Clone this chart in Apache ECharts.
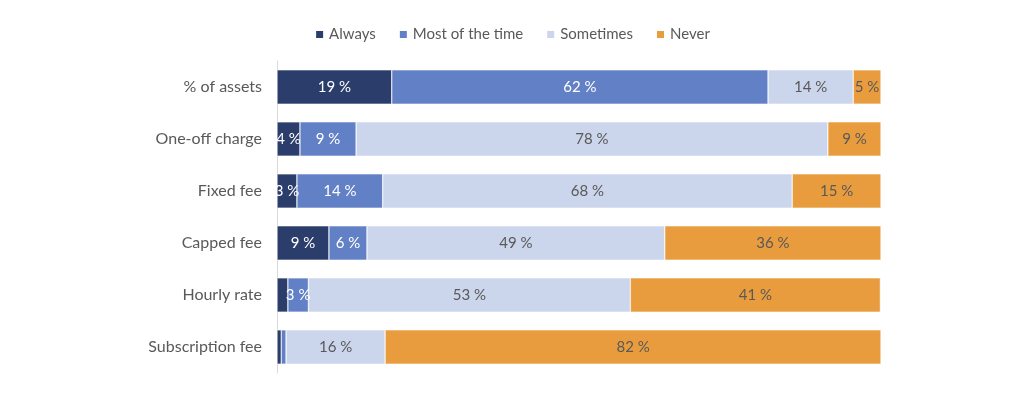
<!DOCTYPE html>
<html>
<head>
<meta charset="utf-8">
<script src="https://cdn.jsdelivr.net/npm/echarts@6/dist/echarts.min.js"></script>
<style>
  html, body { margin: 0; padding: 0; background: #fff; }
  #chart { width: 1024px; height: 399px; }
</style>
</head>
<body>
<div id="chart"></div>
<script>
const categories = ['% of assets', 'One-off charge', 'Fixed fee', 'Capped fee', 'Hourly rate', 'Subscription fee'];
const always     = [19, 3.8, 3.3, 8.6, 1.8, 0.7];
const mostOfTime = [62.3, 9.3, 14.2, 6.3, 3.4, 0.8];
const sometimes  = [14.1, 78.1, 67.8, 49.3, 53.3, 16.4];
const never      = [4.6, 8.8, 14.7, 35.8, 41.4, 82.1];

const seriesNames = ['Always', 'Most of the time', 'Sometimes', 'Never'];
const colors = ['#2b3d6b', '#6280c5', '#cbd5eb', '#e99c3e'];
const labelColors = ['#ffffff', '#ffffff', '#595959', '#595959'];

const chart = echarts.init(document.getElementById('chart'));

function makeSeries(name, data, i) {
  return {
    name: name,
    type: 'bar',
    stack: 'total',
    barWidth: '66%',
    data: data,
    itemStyle: { color: colors[i], borderColor: '#fff', borderWidth: 0.5 },
    label: {
      show: true,
      position: 'inside',
      color: labelColors[i],
      fontFamily: 'Lato',
      fontSize: 15,
      formatter: p => p.value < 2.5 ? '' : Math.round(p.value) + ' %'
    }
  };
}

chart.setOption({
  animation: false,
  textStyle: { fontFamily: 'Lato' },
  legend: {
    top: 22,
    left: 'center',
    itemWidth: 9,
    itemHeight: 9,
    itemGap: 22,
    icon: 'rect',
    textStyle: { color: '#595959', fontSize: 15, fontFamily: 'Lato' }
  },
  grid: { left: 277, right: 143, top: 61, bottom: 26 },
  xAxis: {
    type: 'value',
    min: 0,
    max: 100,
    show: false
  },
  yAxis: {
    type: 'category',
    inverse: true,
    data: categories,
    axisLine: { lineStyle: { color: '#d9d9d9', width: 1 } },
    axisTick: { show: false },
    axisLabel: { color: '#595959', fontSize: 16, margin: 15, fontFamily: 'Lato' }
  },
  series: [
    makeSeries(seriesNames[0], always, 0),
    makeSeries(seriesNames[1], mostOfTime, 1),
    makeSeries(seriesNames[2], sometimes, 2),
    makeSeries(seriesNames[3], never, 3)
  ]
});
</script>
</body>
</html>
